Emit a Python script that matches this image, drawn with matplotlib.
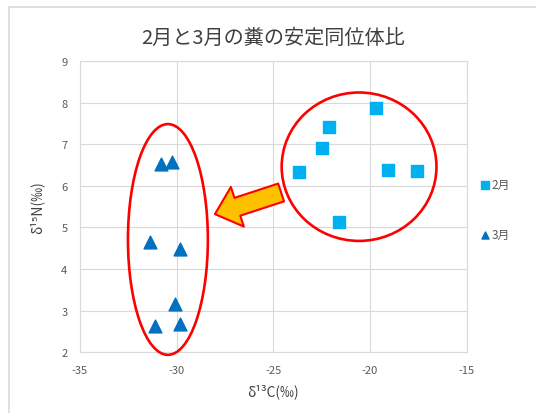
import matplotlib
matplotlib.use("Agg")
import matplotlib.pyplot as plt
from matplotlib.patches import Ellipse, FancyArrowPatch, Rectangle

plt.rcParams['font.family'] = ['Noto Sans CJK JP', 'DejaVu Sans']

# stable isotope ratios of feces, per month
feb_c = [-23.7, -22.1, -22.5, -19.7, -19.1, -17.6, -21.6]
feb_n = [6.33, 7.41, 6.91, 7.86, 6.38, 6.36, 5.13]
mar_c = [-30.8, -30.25, -31.4, -29.85, -30.1, -31.1, -29.8]
mar_n = [6.52, 6.57, 4.66, 4.48, 3.16, 2.63, 2.68]

series = ["2月", "3月"]
x_ticks = [-35, -30, -25, -20, -15]
y_ticks = [2, 3, 4, 5, 6, 7, 8, 9]

grid_c = "#D9D9D9"
text_c = "#595959"

fig = plt.figure(figsize=(5.36, 4.14), dpi=100)
ax = fig.add_axes([0.149, 0.147, 0.722, 0.703])

ax.scatter(feb_c, feb_n, marker="s", s=85, color="#00B0F0", label=series[0], zorder=3)
ax.scatter(mar_c, mar_n, marker="^", s=85, color="#0070C0", label=series[1], zorder=3)

ax.set_xlim(x_ticks[0], x_ticks[-1])
ax.set_ylim(y_ticks[0], y_ticks[-1])
ax.set_xticks(x_ticks)
ax.set_yticks(y_ticks)
ax.set_xticklabels([str(v) for v in x_ticks])
ax.tick_params(length=0, labelsize=8, labelcolor=text_c, pad=9)
ax.grid(True, color=grid_c, lw=0.8)
ax.set_axisbelow(True)
for s in ax.spines.values():
    s.set_color(grid_c)
    s.set_linewidth(0.8)

ax.set_title("2月と3月の糞の安定同位体比", fontsize=14.5, color="#404040", pad=13)
ax.set_xlabel("δ¹³C(‰)", fontsize=10, color="#404040", labelpad=6)
ax.set_ylabel("δ¹⁵N(‰)", fontsize=10, color="#404040", labelpad=12)

# circles around each group and the arrow between them
ax.add_patch(Ellipse((-30.45, 4.71), 4.13, 5.55, fill=False, ec="red", lw=1.9,
                     clip_on=False, zorder=4))
ax.add_patch(Ellipse((-20.57, 6.46), 8.0, 3.57, fill=False, ec="red", lw=1.9,
                     clip_on=False, zorder=4))
ax.add_patch(FancyArrowPatch((-24.6, 5.84), (-28.02, 5.32),
                             arrowstyle="simple,head_length=1.7,head_width=3.0,tail_width=1.35",
                             mutation_scale=10, shrinkA=0, shrinkB=0,
                             fc="#FFC000", ec="red", lw=1.5, zorder=3))

ax.legend(loc="center left", bbox_to_anchor=(1.0, 0.49), frameon=False,
          fontsize=8.5, labelcolor=text_c, handletextpad=0.0, labelspacing=3.2,
          markerscale=0.55, handlelength=1.2)

fig.add_artist(Rectangle((9 / 536, -0.1), 1.2, 1.1 - 8 / 414,
                         transform=fig.transFigure, fill=False, ec=grid_c, lw=1.2))

fig.savefig("out.png", dpi=100)
